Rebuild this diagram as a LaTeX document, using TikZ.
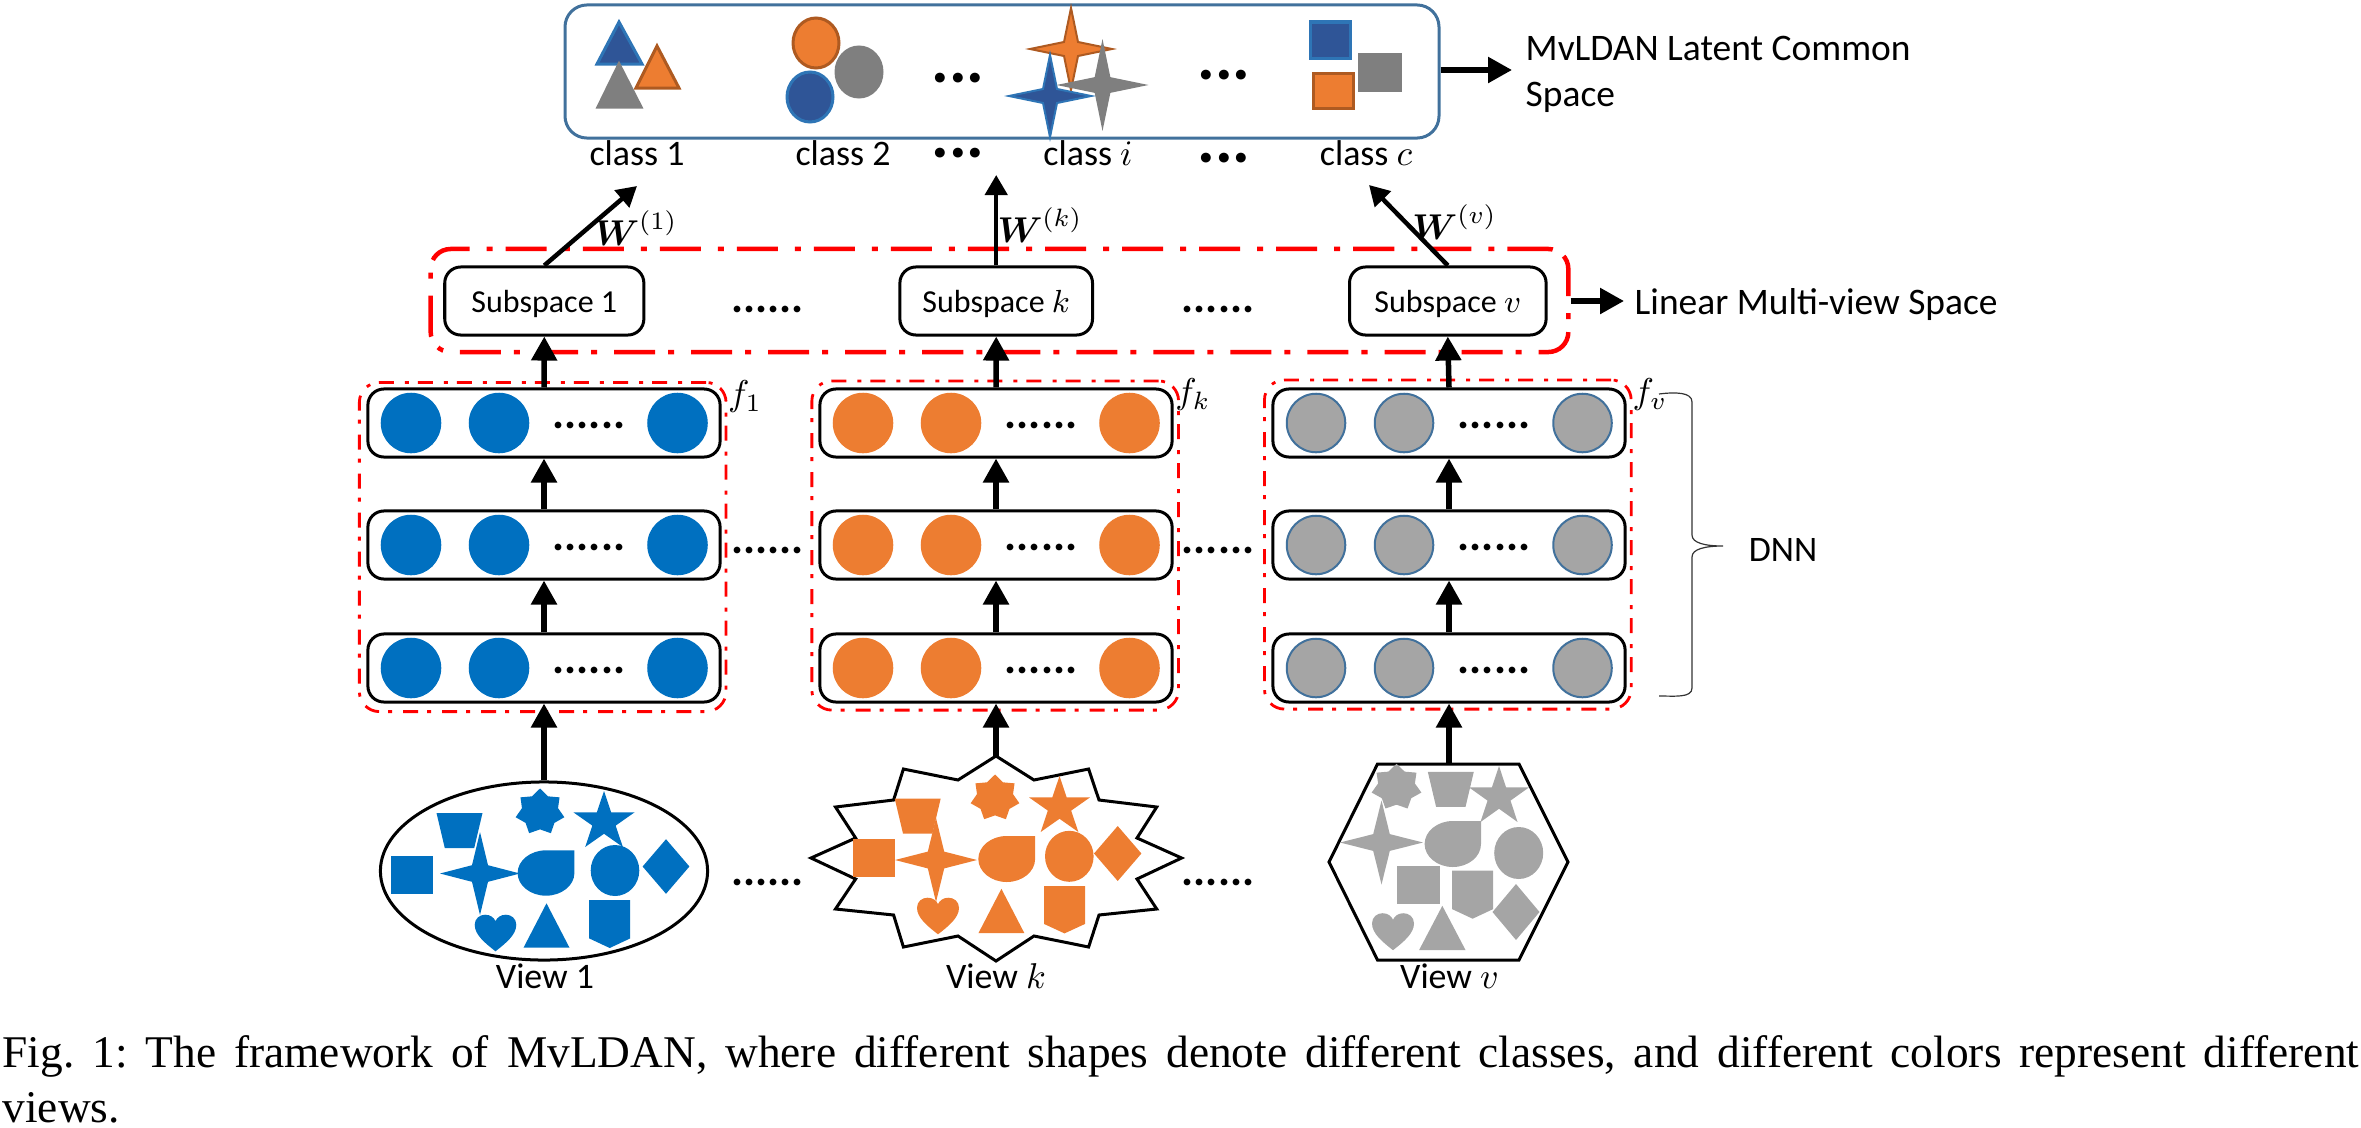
\documentclass[tikz,border=0pt]{standalone}
\usepackage{fix-cm}
\usepackage{amsmath}
\usepackage{fontspec}
\setmainfont{Carlito}
\newfontfamily\capfont{Liberation Serif}
\usetikzlibrary{arrows.meta}
\usetikzlibrary{shapes.geometric}
\definecolor{viewblue}{HTML}{0070C0}
\definecolor{vieworange}{HTML}{ED7D31}
\definecolor{viewgray}{HTML}{A5A5A5}
\definecolor{edgeblue}{HTML}{41719C}
\definecolor{topfillblue}{HTML}{2F5597}
\definecolor{topedgeblue}{HTML}{2E75B6}
\definecolor{topedgeorange}{HTML}{AE5A21}
\definecolor{topgrayfill}{HTML}{7F7F7F}
\tikzset{
	labeltext/.style={font=\fontsize{10.2}{12.5}\selectfont, inner sep=0pt},
	sidetext/.style={font=\fontsize{10.65}{13.1}\selectfont, inner sep=0pt},
	rowdots/.style={font=\fontsize{12.8}{14}\selectfont\bfseries, inner sep=0pt},
	topdots/.style={font=\fontsize{18.8}{20}\selectfont\bfseries, inner sep=0pt},
	flow/.style={-{Triangle[length=.24cm,width=.25cm]}, line width=.055cm},
	weight/.style={-{Triangle[length=.2cm,width=.22cm]}, line width=.045cm},
	subspace/.style={draw, rounded corners=.16cm, line width=.03cm, minimum height=.68cm, inner sep=0pt, text depth=0pt, font=\fontsize{9.1}{11}\selectfont},
	layer/.style={draw, rounded corners=.16cm, line width=.03cm, minimum width=3.52cm, minimum height=.68cm},
	neuron/.style={circle, inner sep=0pt, minimum size=.585cm},
	bigred/.style={draw=red, rounded corners=.2cm, line width=.045cm, dash pattern=on .41cm off .13cm on .06cm off .17cm, minimum width=11.37cm, minimum height=1.03cm},
	smallred/.style={draw=red, rounded corners=.2cm, line width=.028cm, dash pattern=on .15cm off .09cm on .04cm off .11cm, minimum width=3.665cm, minimum height=3.29cm},
	outline/.style={draw, line width=.03cm},
	topblue/.style={fill=topfillblue, draw=topedgeblue, line width=.03cm},
	toporange/.style={fill=vieworange, draw=topedgeorange, line width=.03cm},
	topgray/.style={fill=topgrayfill, draw=topgrayfill, line width=.03cm},
	sqr/.pic={\fill (-1,-1) rectangle (1,1);},
	trap/.pic={\fill (-1,-1) -- (1,-1) -- (.64,1) -- (-.64,1) -- cycle;},
	oval/.pic={\fill (0,0) circle (1);},
	kite/.pic={\fill (0,-1) -- (1,0) -- (0,1) -- (-1,0) -- cycle;},
	tri/.pic={\fill (0,-1) -- (1,1) -- (-1,1) -- cycle;},
	shield/.pic={\fill (-1,-1) -- (1,-1) -- (1,.6) -- (0,1) -- (-1,.6) -- cycle;},
	fourstar/.pic={\fill (0,-1) -- (.2,-.2) -- (1,0) -- (.2,.2) -- (0,1) -- (-.2,.2) -- (-1,0) -- (-.2,-.2) -- cycle;},
	fivestar/.pic={\fill (0,-1) -- (.236,-.236) -- (1,-.236) -- (.382,.236) -- (.618,1) -- (0,.528) -- (-.618,1) -- (-.382,.236) -- (-1,-.236) -- (-.236,-.236) -- cycle;},
	sevenstar/.pic={\fill (-90:1) \foreach \i in {1,...,13} { -- ({-90+\i*360/14}:{mod(\i,2)==0 ? 1 : .74}) } -- cycle;},
	tear/.pic={\fill (1,-1) -- (0,-1) .. controls (-.55,-1) and (-1,-.55) .. (-1,0) .. controls (-1,.55) and (-.55,1) .. (0,1) .. controls (.55,1) and (1,.55) .. (1,0) -- cycle;},
	hrt/.pic={\fill (0,1) .. controls (-.5,.55) and (-1,.1) .. (-1,-.45) .. controls (-1,-.8) and (-.75,-1) .. (-.5,-1) .. controls (-.25,-1) and (-.08,-.85) .. (0,-.65) .. controls (.08,-.85) and (.25,-1) .. (.5,-1) .. controls (.75,-1) and (1,-.8) .. (1,-.45) .. controls (1,.1) and (.5,.55) .. (0,1) -- cycle;},
}
\newcommand{\viewshapes}[2]{\foreach \shp/\cx/\cy/\hw/\hh in {#2} {\pic[color=#1,xscale=\hw,yscale=\hh] at (\cx,\cy) {\shp};}}

\begin{document}
\begin{tikzpicture}[x=.01cm,y=-.01cm]
	\useasboundingbox (0,0) rectangle (2361,1127);
	% red frames go first, the arrows run over them
	\node[bigred] (multiview) at (999.5,300.5) {};
	\foreach \v/\rx/\ry in {a/542.7/547,k/995.2/545.5,v/1447.8/544.5}
		\node[smallred] (frame\v) at (\rx,\ry) {};

	% common space
	\node[draw=edgeblue, rounded corners=.22cm, line width=.03cm, minimum width=8.735cm, minimum height=1.33cm] (common) at (1002,71.5) {};
	\draw[topblue] (619,22) -- (642,64) -- (597,64) -- cycle;
	\draw[toporange] (657,46) -- (679,88) -- (636,88) -- cycle;
	\draw[topgray] (619,64) -- (641,107) -- (598,107) -- cycle;
	\draw[toporange] (816,43) ellipse (23 and 25);
	\draw[topgray] (859,72) ellipse (23 and 25);
	\draw[topblue] (810,97) ellipse (23 and 25);
	\foreach \cx/\cy/\sty in {1071/49/toporange,1050/96/topblue,1102.5/85/topgray}
		\draw[\sty, line width=.02cm] (\cx-41,\cy) -- (\cx-7,\cy-7) -- (\cx,\cy-41) -- (\cx+7,\cy-7) -- (\cx+41,\cy) -- (\cx+7,\cy+7) -- (\cx,\cy+41) -- (\cx-7,\cy+7) -- cycle;
	\draw[topblue] (1310,22) rectangle (1350,58);
	\draw[topgray] (1359,54) rectangle (1400,90);
	\draw[toporange] (1313,73) rectangle (1353,108);
	\node[topdots] (dotsa) at (958,78) {...};
	\node[topdots] (dotsb) at (1224,75) {...};
	\node[topdots] (dotsc) at (958,153) {...};
	\node[topdots] (dotsd) at (1224,158) {...};
	\node[labeltext, anchor=base] (classa) at (637,165) {class 1};
	\node[labeltext, anchor=base] (classb) at (843,165) {class 2};
	\node[labeltext, anchor=base] (classi) at (1088,165) {class $i$};
	\node[labeltext, anchor=base] (classc) at (1366,165) {class $c$};
	\coordinate (commonout) at (1512,70);
	\draw[flow] (common.east |- commonout) -- (commonout);
	\node[sidetext, anchor=west, align=left] (commonname) at (1525,74) {MvLDAN Latent Common\\Space};

	% subspaces
	\node[subspace, minimum width=1.99cm] (suba) at (544.3,301) {Subspace 1};
	\node[subspace, minimum width=1.925cm] (subk) at (996.2,301) {Subspace $k$};
	\node[subspace, minimum width=1.965cm] (subv) at (1447.8,301) {Subspace $v$};
	\node[rowdots] (subdotsa) at (767.5,309) {......};
	\node[rowdots] (subdotsb) at (1218,309) {......};
	\coordinate (wa) at (637,186);
	\coordinate (wk) at (996.2,175);
	\coordinate (wv) at (1369,185);
	\draw[weight] (suba.north) -- (wa);
	\draw[weight] (subk.north) -- (wk);
	\draw[weight] (subv.north) -- (wv);
	\node[labeltext] (labelwa) at (636,228) {$\boldsymbol{W}^{(1)}$};
	\node[labeltext] (labelwk) at (1040,225) {$\boldsymbol{W}^{(k)}$};
	\node[labeltext] (labelwv) at (1454.6,222) {$\boldsymbol{W}^{(v)}$};
	\coordinate (multiout) at (1624,301);
	\draw[flow] (multiview.east |- multiout) -- (multiout);
	\node[sidetext, anchor=west] (multiname) at (1634,305) {Linear Multi-view Space};

	% the three networks
	\foreach \v/\cx/\col/\bd in {a/544/viewblue/viewblue,k/996/vieworange/vieworange,v/1449/viewgray/edgeblue} {
		\foreach \r/\cy in {1/423,2/545,3/668} {
			\node[layer] (lay\v\r) at (\cx,\cy) {};
			\node[neuron, fill=\col, draw=\bd, line width=.02cm] (n\v\r a) at (\cx-133,\cy) {};
			\node[neuron, fill=\col, draw=\bd, line width=.02cm] (n\v\r b) at (\cx-45,\cy) {};
			\node[neuron, fill=\col, draw=\bd, line width=.02cm] (n\v\r c) at (\cx+133.5,\cy) {};
			\node[rowdots] (dots\v\r) at (\cx+45,\cy+2) {......};
		}
		\draw[flow] (lay\v3.north) -- (lay\v2.south);
		\draw[flow] (lay\v2.north) -- (lay\v1.south);
		\draw[flow] (lay\v1.north) -- (sub\v.south);
	}
	\node[labeltext] (fa) at (745,397) {$f_1$};
	\node[labeltext] (fk) at (1193,395) {$f_k$};
	\node[labeltext] (fv) at (1650,395) {$f_v$};
	\node[rowdots] (rowdotsa) at (767.5,550) {......};
	\node[rowdots] (rowdotsb) at (1218,550) {......};

	% brace on the right
	\draw[line width=.012cm, black!80] (1659,394) .. controls (1675,392) and (1692,392) .. (1692,402) -- (1692,535) .. controls (1692,543) and (1705,546) .. (1723,546) .. controls (1705,546) and (1692,549) .. (1692,557) -- (1692,688) .. controls (1692,698) and (1675,696) .. (1659,696);
	\node[labeltext] (dnn) at (1783,550) {DNN};

	% input views
	\node[draw, ellipse, line width=.03cm, inner sep=0pt, minimum width=3.27cm, minimum height=1.78cm] (viewa) at (544,871) {};
	\coordinate (viewk) at (996,756);
	\draw[outline] (viewk) -- (958,780) -- (903.4,769) -- (893.6,800) -- (835.5,807) -- (855.6,838) -- (811,858) -- (855.6,879) -- (835.5,909) -- (893.6,915) -- (903.4,947) -- (958,936) -- (996,961) -- (1034,936) -- (1088.6,947) -- (1099,915) -- (1156.7,909) -- (1137,879) -- (1181.6,858) -- (1137,838) -- (1156.7,807) -- (1099,800) -- (1088.6,769) -- (1034,780) -- cycle;
	\coordinate (viewv) at (1449,764);
	\draw[outline] (1377.5,764) -- (1519,764) -- (1568,862) -- (1519,960) -- (1377.5,960) -- (1329,862) -- cycle;
	\draw[flow] (viewa.north) -- (laya3.south);
	\draw[flow] (viewk) -- (layk3.south);
	\draw[flow] (viewv) -- (layv3.south);
	\viewshapes{viewblue}{sqr/412/875/21/19,trap/459.5/830.5/23/17.5,sevenstar/540/812/25/23.5,fivestar/604/819/30.5/28,fourstar/480/873.5/40/41.5,tear/546/873/28.4/22.7,oval/615/870.5/24.3/25.5,kite/666/866.5/23.4/27.3,hrt/495.5/933/20.8/18.3,tri/546.5/925.5/23/22.2,shield/609.7/924/20.5/24}
	\viewshapes{vieworange}{sqr/874/858/21/19,trap/917.7/816/23/17.5,sevenstar/995/798/25/23.5,fivestar/1059.5/804/30.5/28,fourstar/936/860/41/42,tear/1006.7/859/28.4/23,oval/1069.3/856.3/24.3/25.5,kite/1117.7/853.5/23.7/27.5,hrt/938/916/21/18.3,tri/1001.4/911/23/22.2,shield/1064.5/909.7/20.5/23.7}
	\viewshapes{viewgray}{sqr/1418.5/885/21.5/19,trap/1450.8/789.3/23/17.5,sevenstar/1396.5/787.3/25.5/23.5,fivestar/1499/794/30/28,fourstar/1381.5/842.5/41.5/42,tear/1452.8/844/28.2/23,oval/1518.7/853/24.5/26,kite/1516/912/23.5/28,hrt/1393/931.7/21/18.5,tri/1442.3/928/23.3/22.2,shield/1472.6/894.7/20.5/24}
	\node[rowdots] (viewdotsa) at (767.5,882) {......};
	\node[rowdots] (viewdotsb) at (1218,882) {......};
	\node[labeltext, anchor=base] (labela) at (545,988) {View 1};
	\node[labeltext, anchor=base] (labelk) at (996,988) {View $k$};
	\node[labeltext, anchor=base] (labelv) at (1449.5,988) {View $v$};

	\node[inner sep=0pt, anchor=north west, text width=23.55cm, align=justify, font=\capfont\fontsize{12.9}{15.6}\selectfont\frenchspacing] (caption) at (2,1035) {Fig. 1: The framework of MvLDAN, where different shapes denote different classes, and different colors represent different\linebreak views.};
\end{tikzpicture}
\end{document}
